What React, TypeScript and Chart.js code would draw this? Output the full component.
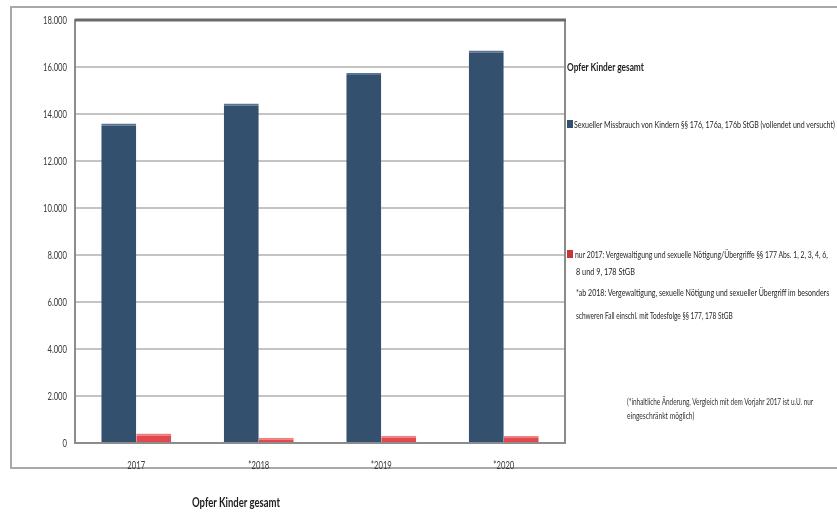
import React, { useEffect, useLayoutEffect, useRef } from 'react';
import { Chart, registerables } from 'chart.js';
Chart.register(...registerables);

const categories = ['2017', '*2018', '*2019', '*2020'];
const missbrauch = [13600, 14450, 15750, 16700];
const vergewaltigung = [400, 220, 310, 300];
const yMax = 18000;
const yStep = 2000;

const chartTitle = 'Opfer Kinder gesamt';
const legendTitle = 'Opfer Kinder gesamt';
const legendBlue = 'Sexueller Missbrauch von Kindern §§ 176, 176a, 176b StGB (vollendet und versucht)';
const legendRedLines = [
  'nur 2017: Vergewaltigung und sexuelle Nötigung/Übergriffe §§ 177 Abs. 1, 2, 3, 4, 6,',
  '8 und 9, 178 StGB',
  '*ab 2018: Vergewaltigung, sexuelle Nötigung und sexueller Übergriff im besonders',
  'schweren Fall einschl. mit Todesfolge §§ 177, 178 StGB',
];
const footnoteLines = [
  '(*inhaltliche Änderung, Vergleich mit dem Vorjahr 2017 ist u.U. nur',
  'eingeschränkt möglich)',
];

const FONT = "'Liberation Sans Narrow', Lato, 'Noto Sans', sans-serif";
const BLUE = '#34506f';
const RED = '#e04a4e';
const TICK_COLOR = '#3a3a3a';

// draws tick labels condensed (like the narrow font of the original)
const condensedTicks = {
  id: 'condensedTicks',
  afterDraw(chart: any) {
    const { ctx } = chart;
    const xs = chart.scales.x;
    const ys = chart.scales.y;
    ctx.save();
    ctx.font = `11px ${FONT}`;
    ctx.fillStyle = TICK_COLOR;
    const ref = ctx.measureText('18.000').width;
    const k = 24 / ref;
    ctx.textBaseline = 'middle';
    // y labels, right aligned at x = left - 8
    ys.ticks.forEach((t: any) => {
      const label = Number(t.value).toLocaleString('de-DE');
      const py = ys.getPixelForValue(t.value);
      const w = ctx.measureText(label).width * k;
      ctx.save();
      ctx.translate(ys.right - 8 - w, py);
      ctx.scale(k, 1);
      ctx.fillText(label, 0, 0);
      ctx.restore();
    });
    // x labels
    xs.ticks.forEach((t: any, i: number) => {
      const label = categories[t.value] ?? categories[i];
      const px = xs.getPixelForTick(i);
      const w = ctx.measureText(label).width * k;
      ctx.save();
      ctx.translate(px - w / 2, chart.chartArea.bottom + 22);
      ctx.scale(k, 1);
      ctx.fillText(label, 0, 0);
      ctx.restore();
    });
    ctx.restore();
  },
};

const framePlugin = {
  id: 'framePlugin',
  afterDraw(chart: any) {
    const { ctx, chartArea } = chart;
    ctx.save();
    ctx.strokeStyle = '#8a8a8a';
    ctx.lineWidth = 2;
    ctx.beginPath();
    ctx.moveTo(chartArea.right, chartArea.top);
    ctx.lineTo(chartArea.right, chartArea.bottom);
    ctx.stroke();
    ctx.strokeStyle = '#6a6a6a';
    ctx.lineWidth = 3;
    ctx.beginPath();
    ctx.moveTo(chartArea.left, chartArea.top);
    ctx.lineTo(chartArea.right + 1, chartArea.top);
    ctx.stroke();
    ctx.strokeStyle = '#a8a8a8';
    ctx.lineWidth = 2;
    ctx.beginPath();
    ctx.moveTo(837, 7);
    ctx.lineTo(11, 7);
    ctx.lineTo(11, 468);
    ctx.lineTo(837, 468);
    ctx.stroke();
    ctx.restore();
  },
};

function Txt(props: { x: number; y: number; size: number; w: number; bold?: boolean; color?: string; children: any }) {
  const { x, y, size, w, bold, color, children } = props;
  const r = useRef<HTMLDivElement>(null);
  useLayoutEffect(() => {
    const el = r.current;
    if (!el) return;
    const nat = el.scrollWidth;
    if (nat > 0) el.style.transform = `scaleX(${w / nat})`;
  }, [w]);
  return (
    <div
      ref={r}
      style={{
        position: 'absolute',
        left: x,
        top: y - size * 0.62,
        fontFamily: FONT,
        fontSize: size,
        lineHeight: `${size * 1.2}px`,
        fontWeight: bold ? 700 : 400,
        color: color || '#1e1e1e',
        whiteSpace: 'nowrap',
        transformOrigin: 'left center',
      }}
    >
      {children}
    </div>
  );
}

export default function App() {
  const ref = useRef<HTMLCanvasElement>(null);

  useEffect(() => {
    if (!ref.current) return;
    const chart = new Chart(ref.current, {
      type: 'bar',
      data: {
        labels: categories,
        datasets: [
          {
            label: legendBlue,
            data: missbrauch,
            backgroundColor: BLUE,
            borderColor: '#5a7594',
            borderWidth: { top: 2, left: 0, right: 0, bottom: 0 } as any,
            categoryPercentage: 0.571,
            barPercentage: 1,
          },
          {
            label: legendRedLines.join(' '),
            data: vergewaltigung,
            backgroundColor: RED,
            borderColor: '#f08080',
            borderWidth: { top: 2, left: 0, right: 0, bottom: 0 } as any,
            categoryPercentage: 0.571,
            barPercentage: 1,
          },
        ],
      },
      options: {
        responsive: false,
        animation: false,
        devicePixelRatio: 1,
        layout: { padding: { left: 8, top: 20, right: 272, bottom: 0 } },
        plugins: {
          legend: { display: false },
          title: { display: false },
          tooltip: { enabled: false },
        },
        scales: {
          x: {
            grid: { display: false },
            border: { display: true, color: '#8c8c8c', width: 2 },
            ticks: { display: false },
            afterFit: (s: any) => {
              s.height = 73;
            },
          },
          y: {
            min: 0,
            max: yMax,
            ticks: { stepSize: yStep, display: false },
            grid: {
              color: '#c4c4c4',
              lineWidth: 2,
              drawTicks: false,
            },
            border: { display: true, color: '#8c8c8c', width: 2 },
            afterFit: (s: any) => {
              s.width = 67;
            },
          },
        },
      },
      plugins: [framePlugin, condensedTicks],
    });
    return () => chart.destroy();
  }, []);

  return (
    <div style={{ position: 'fixed', left: 0, top: 0, width: 837, height: 516, background: '#fff', overflow: 'hidden' }}>
      <canvas ref={ref} width={837} height={516} style={{ position: 'absolute', left: 0, top: 0 }} />
      <Txt x={567} y={67} size={12} w={77} bold>{legendTitle}</Txt>
      <div style={{ position: 'absolute', left: 567, top: 120, width: 6, height: 8, background: BLUE }} />
      <Txt x={574} y={124} size={10} w={261}>{legendBlue}</Txt>
      <div style={{ position: 'absolute', left: 567, top: 250, width: 6, height: 8, background: '#c8343a' }} />
      <Txt x={575} y={254} size={10} w={253}>{legendRedLines[0]}</Txt>
      <Txt x={576} y={271} size={10} w={59}>{legendRedLines[1]}</Txt>
      <Txt x={576} y={292} size={10} w={253}>{legendRedLines[2]}</Txt>
      <Txt x={576} y={315} size={10} w={157}>{legendRedLines[3]}</Txt>
      <Txt x={627} y={403} size={9} w={186} color="#333">{footnoteLines[0]}</Txt>
      <Txt x={627} y={417} size={9} w={67} color="#333">{footnoteLines[1]}</Txt>
      <Txt x={192} y={503} size={13} w={88} bold>{chartTitle}</Txt>
    </div>
  );
}
